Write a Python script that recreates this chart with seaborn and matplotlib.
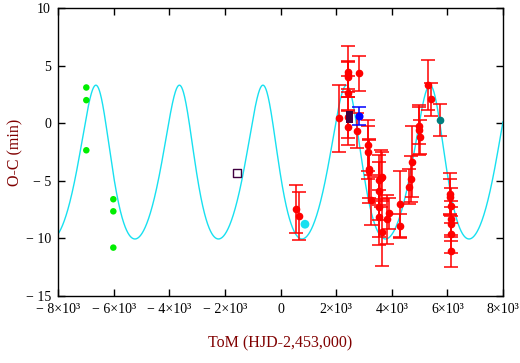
import matplotlib

matplotlib.use('Agg')
import matplotlib.pyplot as plt
import seaborn as sns
import numpy as np
import pandas as pd

# ToM (HJD-2,453,000) and O-C (min) values
red_x = [568, 676, 2091, 2415, 2420, 2425, 2430, 2435, 2440, 2761, 2834,
         3157, 3157, 3170, 3180, 3265, 3541, 3541, 3541, 3541, 3600, 3661,
         3661, 3840, 3912, 4308, 4308, 4632, 4680, 4740, 4975, 4990, 5000,
         5314, 5400, 6100, 6110, 6120, 6125, 6130, 6135, 6140]
red_y = [-7.47, -8.03, 0.42, 4.47, 4.21, 4.04, 2.59, 0.51, -0.36, -0.65, 4.33,
         -1.92, -2.53, -4.0, -4.15, -6.67, -4.93, -5.89, -7.25, -8.17, -4.79, -4.64,
         -9.47, -8.35, -7.83, -7.04, -8.9, -5.5, -4.87, -3.34, -0.2, -0.6, -1.2,
         3.32, 2.07, -6.15, -6.38, -7.16, -8.32, -8.75, -9.64, -11.09]
red_err = [2.1, 2.1, 2.9, 2.2, 1.2, 1.3, 1.5, 1.8, 1.5, 1.5, 1.5,
           2.2, 2.3, 2.5, 2.75, 2.2, 2.2, 2.5, 2.6, 2.4, 2.5, 2.1,
           2.9, 2.1, 1.35, 2.9, 1.0, 1.5, 2.0, 3.1, 1.6, 2.2, 1.5,
           2.15, 1.45, 1.8, 1.5, 1.5, 1.6, 1.5, 1.6, 1.4]

green_x = [-6982, -6982, -6982, -6011, -6011, -6011]
green_y = [3.1, 2.0, -2.35, -6.6, -7.65, -10.8]

blue_x, blue_y, blue_err = [2810], [0.62], [0.8]
teal_x, teal_y, teal_err = [5746], [0.25], [1.4]
cyan_x, cyan_y = [880], [-8.77]
square_x, square_y = [2480, 2480], [0.75, 0.3]
open_sq_x, open_sq_y = [-1553], [-4.35]

xticks = [-8000, -6000, -4000, -2000, 0, 2000, 4000, 6000, 8000]
xtick_labels = ['\u2212 8\u00d710\u00b3', '\u2212 6\u00d710\u00b3', '\u2212 4\u00d710\u00b3',
                '\u2212 2\u00d710\u00b3', '0', '2\u00d710\u00b3', '4\u00d710\u00b3',
                '6\u00d710\u00b3', '8\u00d710\u00b3']
yticks = [-15, -10, -5, 0, 5, 10]
ytick_labels = ['\u2212 15', '\u2212 10', '\u2212 5', '0', '5', '10']

# light-time model
t_peak, period, ecc, nu_peak = -6638.0, 3003.0, 0.17, -0.3
mean_oc, amp = -3.375, 6.675


def model(t):
    e_p = 2 * np.arctan(np.sqrt((1 - ecc) / (1 + ecc)) * np.tan(nu_peak / 2))
    m_p = e_p - ecc * np.sin(e_p)
    M = m_p + 2 * np.pi * (t - t_peak) / period
    E = M.copy()
    for _ in range(40):
        E = E - (E - ecc * np.sin(E) - M) / (1 - ecc * np.cos(E))
    nu = 2 * np.arctan2(np.sqrt(1 + ecc) * np.sin(E / 2), np.sqrt(1 - ecc) * np.cos(E / 2))
    return mean_oc + amp * np.cos(nu - nu_peak)


sns.set_theme(style='white')
plt.rcParams['font.family'] = ['Liberation Serif', 'DejaVu Serif']

fig = plt.figure(figsize=(5.2, 3.63), dpi=100)
ax = fig.add_axes([58 / 520, 1 - 296 / 363, 445 / 520, 288 / 363])

t = np.linspace(-8000, 8000, 2000)
curve = pd.DataFrame({'t': t, 'oc': model(t)})
sns.lineplot(data=curve, x='t', y='oc', ax=ax, color='#18e0f0', lw=1.0)

ax.errorbar(red_x, red_y, yerr=red_err, fmt='o', color='red', ms=4.5,
            ecolor='red', elinewidth=1.1, capsize=5, capthick=1.1, zorder=3)
ax.errorbar(teal_x, teal_y, yerr=teal_err, fmt='o', color='#007f7f', ms=4.5,
            ecolor='red', elinewidth=1.1, capsize=5, capthick=1.1, zorder=3)
ax.errorbar(blue_x, blue_y, yerr=blue_err, fmt='o', color='blue', ms=4.8,
            ecolor='blue', elinewidth=1.1, capsize=5, capthick=1.1, zorder=4)

sns.scatterplot(x=green_x, y=green_y, ax=ax, color='#00ee00', s=22, edgecolor='none', zorder=3)
sns.scatterplot(x=cyan_x, y=cyan_y, ax=ax, color='#18e0f0', s=40, edgecolor='none', zorder=3)
sns.scatterplot(x=square_x, y=square_y, ax=ax, color='#400040', marker='s', s=20,
                edgecolor='none', zorder=4)
ax.scatter(open_sq_x, open_sq_y, marker='s', s=40, facecolor='white',
           edgecolor='#400040', linewidth=1.0, zorder=3)

ax.set_xlim(-8000, 8000)
ax.set_ylim(-15, 10)
ax.set_xticks(xticks)
ax.set_xticklabels(xtick_labels)
ax.set_yticks(yticks)
ax.set_yticklabels(ytick_labels)
ax.tick_params(direction='in', length=5, width=1, colors='black', labelsize=10,
               top=True, right=True, bottom=True, left=True, pad=5)
for s in ax.spines.values():
    s.set_color('black')
    s.set_linewidth(1.0)

ax.set_xlabel('ToM (HJD-2,453,000)', color='#800000', fontsize=11.5, labelpad=14)
ax.set_ylabel('O-C (min)', color='#800000', fontsize=11.5, labelpad=2)

fig.savefig('out.png', dpi=100)
plt.close(fig)
